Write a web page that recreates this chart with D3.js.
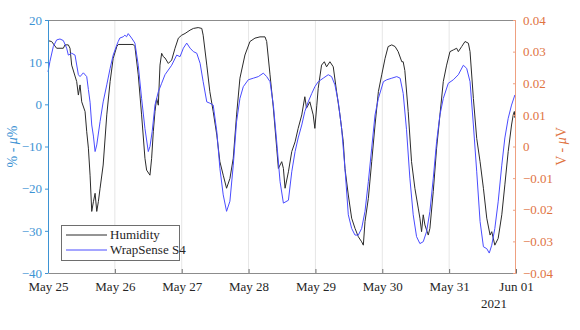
<!DOCTYPE html>
<html>
<head>
<meta charset="utf-8">
<script src="https://cdn.jsdelivr.net/npm/d3@7"></script>
<style>
  html, body { margin: 0; padding: 0; background: #ffffff; }
  svg { display: block; }
  text { font-family: "Liberation Serif", "Times New Roman", serif; }
</style>
</head>
<body>
<svg id="chart" width="580" height="330"></svg>
<script>
// ---------------- data ----------------
const startDate = Date.UTC(2021, 4, 25); // May 25 2021
const endDate = Date.UTC(2021, 5, 1);    // Jun 01 2021
const dayTicks = ["May 25", "May 26", "May 27", "May 28", "May 29", "May 30", "May 31", "Jun 01"];
const leftTicks = [20, 10, 0, -10, -20, -30, -40];
const rightTicks = [0.04, 0.03, 0.02, 0.01, 0, -0.01, -0.02, -0.03, -0.04];
const seriesNames = ["Humidity", "WrapSense S4"];

// Humidity (% - μ%), hours since May 25 00:00
const humHours = [0, 1.3, 3.1, 5.5, 6.1, 7.3, 7.9, 8.5, 10.3, 10.9, 11.5, 12.1, 13.3, 13.9, 14.5, 15.1, 15.7, 16.3, 16.9, 17.5, 18.1, 18.7, 19.8, 21.1, 22.3, 23.4, 24.7, 25.2, 30.6, 31.2, 32.4, 33.6, 34.8, 35.4, 36.6, 37.2, 37.8, 38.4, 39.0, 39.6, 40.2, 40.8, 41.4, 42.0, 43.2, 44.4, 45.6, 46.8, 48.0, 49.2, 51.0, 52.2, 53.9, 55.2, 55.7, 57.0, 58.1, 59.3, 60.6, 61.7, 62.9, 64.1, 65.3, 66.5, 67.7, 68.9, 70.7, 72.5, 74.3, 76.1, 77.9, 78.5, 79.7, 80.9, 82.1, 82.7, 83.9, 84.5, 85.1, 86.3, 87.5, 88.7, 89.8, 91.1, 92.2, 92.8, 94.0, 95.2, 95.8, 96.5, 97.0, 98.2, 99.2, 100.0, 101.2, 102.4, 103.6, 104.8, 106.0, 106.6, 107.8, 109.0, 110.2, 111.4, 112.6, 113.2, 113.8, 115.0, 116.2, 117.4, 118.6, 119.8, 121.0, 122.1, 123.4, 124.6, 125.7, 127.0, 127.5, 128.1, 129.3, 130.5, 131.7, 132.9, 133.5, 134.1, 134.7, 135.3, 136.5, 137.1, 138.3, 139.5, 140.7, 141.9, 143.1, 144.3, 145.5, 146.7, 147.3, 148.5, 149.7, 150.9, 151.5, 152.7, 153.9, 155.1, 156.3, 157.5, 158.7, 159.3, 160.4, 161.6, 162.9, 164.0, 165.2, 166.4, 167.0, 167.4, 167.6];
const humValues = [15.1, 14.9, 13.3, 13.3, 14.1, 14.1, 13.3, 9.3, 5.4, 2.2, 4.6, 0.6, -1.7, -6.5, -10.4, -16.8, -25.4, -23.1, -21.1, -25.4, -23.0, -19.9, -14.4, -2.5, 5.4, 10.9, 13.7, 14.2, 14.2, 13.7, 7.0, -2.5, -12.8, -15.6, -16.8, -12.8, -6.5, -1.7, 1.4, -0.2, 9.3, 12.1, 11.3, 11.0, 9.7, 10.5, 13.3, 15.7, 16.4, 16.8, 17.6, 18.0, 18.2, 18.0, 16.4, 9.3, 3.0, -1.7, -7.3, -13.6, -16.8, -19.9, -17.6, -12.8, -2.5, 6.2, 11.7, 14.9, 15.7, 16.0, 16.0, 14.9, 7.0, -0.9, -10.4, -15.2, -13.6, -15.2, -19.9, -16.0, -11.2, -8.9, -5.7, -2.5, 1.8, -0.9, 0.6, -2.5, -5.7, -0.2, 3.8, 9.3, 10.1, 8.9, 10.1, 8.9, 3.0, -2.5, -8.9, -15.2, -21.5, -27.0, -29.4, -31.4, -32.6, -33.4, -27.8, -22.3, -13.6, -4.9, 3.0, 7.0, 10.9, 13.7, 14.1, 13.7, 12.5, 10.1, 10.1, 8.0, -1.7, -13.6, -19.9, -24.6, -27.0, -30.2, -26.2, -28.6, -31.0, -29.4, -20.7, -10.4, -2.5, 5.4, 9.3, 12.5, 12.9, 13.3, 12.5, 13.7, 14.9, 14.5, 12.5, 1.4, -8.1, -13.6, -19.9, -27.0, -31.0, -30.2, -33.4, -31.8, -26.2, -19.1, -11.2, -4.9, -2.5, -1.7, -3.2];

// WrapSense S4 (V - μV), hours since May 25 00:00
const wsHours = [0, 0.7, 1.9, 3.1, 4.3, 5.5, 6.7, 7.3, 8.5, 9.7, 10.9, 11.5, 12.7, 13.9, 14.5, 15.1, 15.7, 16.3, 16.9, 17.5, 18.7, 19.8, 21.1, 22.3, 23.4, 24.7, 25.2, 25.8, 27.0, 27.6, 28.2, 28.8, 30.0, 31.2, 32.4, 33.6, 34.8, 36.0, 36.6, 37.4, 38.4, 39.6, 40.8, 42.0, 44.4, 46.2, 47.4, 48.6, 49.8, 51.0, 52.2, 53.4, 54.6, 55.7, 57.0, 58.1, 59.3, 60.6, 61.7, 62.9, 64.1, 65.3, 66.5, 67.7, 68.9, 70.1, 71.9, 73.7, 75.5, 77.3, 78.5, 79.7, 80.9, 82.1, 83.3, 84.5, 86.3, 87.5, 88.7, 89.8, 91.1, 92.2, 93.4, 94.7, 95.8, 97.0, 98.8, 100.6, 101.8, 103.0, 104.2, 105.4, 106.6, 107.8, 109.0, 110.2, 111.4, 112.6, 113.8, 115.0, 116.2, 117.4, 118.6, 120.4, 121.6, 123.4, 125.2, 126.4, 127.5, 128.7, 129.9, 131.1, 132.3, 133.5, 134.7, 135.9, 137.1, 138.3, 139.5, 140.7, 141.9, 143.7, 145.5, 147.3, 149.1, 150.3, 151.5, 152.7, 153.9, 155.1, 156.3, 157.5, 158.4, 159.3, 160.4, 161.6, 162.9, 164.0, 165.2, 166.4, 167.6];
const wsValues = [0.0236, 0.0269, 0.0316, 0.0337, 0.0340, 0.0335, 0.0311, 0.0289, 0.0295, 0.0289, 0.0227, 0.0221, 0.0233, 0.0221, 0.0180, 0.0140, 0.0068, 0.0033, -0.0016, 0.0005, 0.0079, 0.0141, 0.0195, 0.0247, 0.0289, 0.0321, 0.0332, 0.0343, 0.0347, 0.0352, 0.0347, 0.0357, 0.0343, 0.0327, 0.0257, 0.0152, 0.0057, -0.0016, 0.0000, 0.0047, 0.0131, 0.0173, 0.0200, 0.0227, 0.0257, 0.0289, 0.0284, 0.0311, 0.0327, 0.0311, 0.0300, 0.0295, 0.0263, 0.0205, 0.0141, 0.0137, 0.0131, 0.0047, -0.0069, -0.0153, -0.0205, -0.0173, -0.0059, 0.0079, 0.0152, 0.0189, 0.0211, 0.0216, 0.0221, 0.0232, 0.0221, 0.0205, 0.0131, 0.0015, -0.0111, -0.0179, -0.0170, -0.0080, -0.0016, 0.0027, 0.0068, 0.0111, 0.0141, 0.0168, 0.0189, 0.0205, 0.0216, 0.0227, 0.0221, 0.0195, 0.0141, 0.0057, -0.0069, -0.0216, -0.0259, -0.0280, -0.0280, -0.0259, -0.0205, -0.0111, -0.0005, 0.0100, 0.0152, 0.0205, 0.0211, 0.0216, 0.0221, 0.0216, 0.0168, 0.0053, -0.0100, -0.0216, -0.0285, -0.0307, -0.0301, -0.0269, -0.0205, -0.0101, 0.0015, 0.0100, 0.0152, 0.0200, 0.0211, 0.0227, 0.0257, 0.0247, 0.0205, 0.0068, -0.0080, -0.0237, -0.0317, -0.0323, -0.0337, -0.0312, -0.0259, -0.0175, -0.0059, 0.0027, 0.0089, 0.0131, 0.0163];

// ---------------- drawing ----------------
const W = 580, H = 330;
const M = { left: 48, right: 64, top: 20, bottom: 57 };
const iw = W - M.left - M.right, ih = H - M.top - M.bottom;

const leftColor = "#3d93d4";
const rightColor = "#e0733f";
const rightAxisColor = "#eea080";
const textColor = "#262626";
const serif = "'Liberation Serif', 'Times New Roman', serif";

const svg = d3.select("#chart");
const g = svg.append("g").attr("transform", `translate(${M.left},${M.top})`);

const x = d3.scaleUtc().domain([new Date(startDate), new Date(endDate)]).range([0, iw]);
const yL = d3.scaleLinear().domain([-40, 20]).range([ih, 0]);
const yR = d3.scaleLinear().domain([-0.04, 0.04]).range([ih, 0]);

const dayDates = d3.utcDay.range(new Date(startDate), new Date(endDate + 1));

// vertical grid
g.append("g").selectAll("line").data(dayDates.slice(1, -1)).join("line")
  .attr("x1", d => x(d)).attr("x2", d => x(d))
  .attr("y1", 0).attr("y2", ih)
  .attr("stroke", "#e6e6e6").attr("stroke-width", 1);

// top border
g.append("line").attr("x1", 0).attr("x2", iw).attr("y1", 0.5).attr("y2", 0.5)
  .attr("stroke", "#8c8c8c").attr("stroke-width", 1);

// lines
const toDate = h => new Date(startDate + h * 3600 * 1000);
const hum = humHours.map((h, i) => ({ t: toDate(h), v: humValues[i] }));
const ws = wsHours.map((h, i) => ({ t: toDate(h), v: wsValues[i] }));

g.append("path").datum(hum)
  .attr("fill", "none").attr("stroke", "#2b2b2b").attr("stroke-width", 1)
  .attr("d", d3.line().x(d => x(d.t)).y(d => yL(d.v)));

g.append("path").datum(ws)
  .attr("fill", "none").attr("stroke", "#4a4cff").attr("stroke-width", 1)
  .attr("d", d3.line().x(d => x(d.t)).y(d => yR(d.v)));

// x axis
const xAxis = g.append("g").attr("transform", `translate(0,${ih})`)
  .call(d3.axisBottom(x).tickValues(dayDates).tickSize(-4).tickPadding(9)
    .tickFormat((d, i) => dayTicks[i]));
xAxis.select(".domain").attr("stroke", "#8c8c8c");
xAxis.selectAll(".tick line").attr("stroke", "#6e6e6e");
xAxis.selectAll("text").attr("fill", textColor).style("font-size", "13px")
  .style("font-family", serif);
g.append("text").attr("x", x(new Date(endDate)) - 22).attr("y", ih + 35)
  .attr("text-anchor", "middle").attr("fill", textColor)
  .style("font-size", "13px").style("font-family", serif).text("2021");

// left axis
const lAxis = g.append("g")
  .call(d3.axisLeft(yL).tickValues(leftTicks).tickSize(3).tickPadding(3).tickFormat(d3.format("d")));
lAxis.select(".domain").attr("stroke", leftColor).attr("d", `M0.5,0V${ih}`);
lAxis.selectAll(".tick line").attr("stroke", leftColor);
lAxis.selectAll("text").attr("fill", leftColor).style("font-size", "13px")
  .style("font-family", serif);

function unitLabel(sel, before, after) {
  sel.append("tspan").text(before);
  sel.append("tspan").style("font-style", "italic").text("μ");
  sel.append("tspan").text(after);
}
const ll = g.append("text")
  .attr("transform", `translate(-31,${ih / 2}) rotate(-90)`)
  .attr("text-anchor", "middle").attr("fill", leftColor)
  .style("font-size", "14px").style("font-family", serif);
unitLabel(ll, "% - ", "%");

// right axis
const rAxis = g.append("g").attr("transform", `translate(${iw},0)`)
  .call(d3.axisRight(yR).tickValues(rightTicks).tickSize(-3).tickPadding(7)
    .tickFormat(d => d === 0 ? "0" : d3.format(".2f")(d)));
rAxis.select(".domain").attr("stroke", rightAxisColor).attr("d", `M-0.5,0V${ih}`);
rAxis.selectAll(".tick line").attr("stroke", rightAxisColor);
rAxis.selectAll("text").attr("fill", rightColor).style("font-size", "13px")
  .style("font-family", serif);
const rl = g.append("text")
  .attr("transform", `translate(${iw + 50},${ih / 2}) rotate(-90)`)
  .attr("text-anchor", "middle").attr("fill", rightColor)
  .style("font-size", "14px").style("font-family", serif);
unitLabel(rl, "V - ", "V");

// legend
const lg = g.append("g").attr("transform", "translate(13,205)");
lg.append("rect").attr("x", 0.5).attr("y", 0.5).attr("width", 118).attr("height", 35)
  .attr("fill", "#ffffff").attr("stroke", "#6e6e6e").attr("stroke-width", 1);
const legColors = ["#2b2b2b", "#4a4cff"];
seriesNames.forEach((name, i) => {
  const yy = 10 + i * 15;
  lg.append("line").attr("x1", 5).attr("x2", 46).attr("y1", yy).attr("y2", yy)
    .attr("stroke", legColors[i]).attr("stroke-width", 1);
  lg.append("text").attr("x", 49).attr("y", yy + 4).attr("fill", textColor)
    .style("font-size", "13px").style("font-family", serif).text(name);
});
</script>
</body>
</html>
